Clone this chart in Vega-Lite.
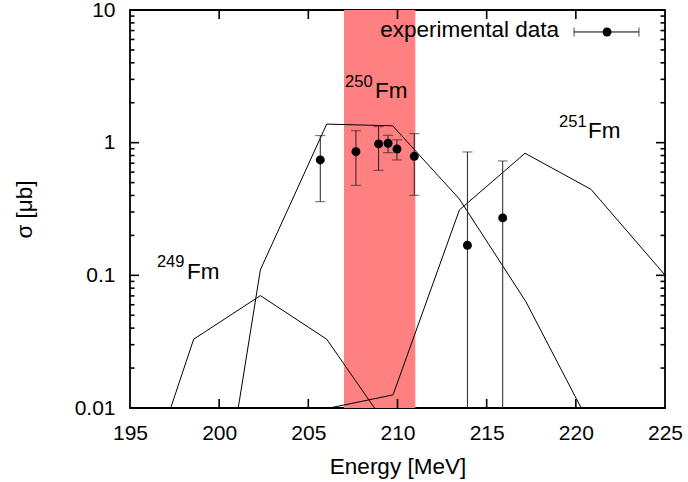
{
  "$schema": "https://vega.github.io/schema/vega-lite/v6.json",
  "width": 535,
  "height": 398,
  "autosize": {"type": "none"},
  "padding": {"left": 130, "top": 10, "right": 23, "bottom": 74},
  "background": "white",
  "config": {
    "view": {"stroke": "black", "strokeWidth": 1.8},
    "font": "Liberation Sans",
    "axis": {
      "labelFont": "Liberation Sans", "labelFontSize": 21, "labelColor": "black",
      "titleFont": "Liberation Sans", "titleFontSize": 22.5, "titleFontWeight": "normal", "titleColor": "black",
      "domain": false, "grid": false, "ticks": false,
      "labelFlush": false, "labelOverlap": false
    }
  },
  "datasets": {
    "band": [{"start": 207, "end": 211, "low": 0.01, "high": 10}],
    "frameticks": [
      {"E": 200, "E2": 200, "s": 0.01, "s2": 0.01169}, {"E": 205, "E2": 205, "s": 0.01, "s2": 0.01169}, {"E": 210, "E2": 210, "s": 0.01, "s2": 0.01169}, {"E": 215, "E2": 215, "s": 0.01, "s2": 0.01169}, {"E": 220, "E2": 220, "s": 0.01, "s2": 0.01169},
      {"E": 200, "E2": 200, "s": 10, "s2": 8.556}, {"E": 205, "E2": 205, "s": 10, "s2": 8.556}, {"E": 210, "E2": 210, "s": 10, "s2": 8.556}, {"E": 215, "E2": 215, "s": 10, "s2": 8.556}, {"E": 220, "E2": 220, "s": 10, "s2": 8.556},
      {"E": 195, "E2": 195.505, "s": 0.1, "s2": 0.1}, {"E": 195, "E2": 195.505, "s": 1, "s2": 1},
      {"E": 225, "E2": 224.495, "s": 0.1, "s2": 0.1}, {"E": 225, "E2": 224.495, "s": 1, "s2": 1},
      {"E": 195, "E2": 195.252, "s": 0.02, "s2": 0.02}, {"E": 195, "E2": 195.252, "s": 0.03, "s2": 0.03}, {"E": 195, "E2": 195.252, "s": 0.04, "s2": 0.04}, {"E": 195, "E2": 195.252, "s": 0.05, "s2": 0.05}, {"E": 195, "E2": 195.252, "s": 0.06, "s2": 0.06}, {"E": 195, "E2": 195.252, "s": 0.07, "s2": 0.07}, {"E": 195, "E2": 195.252, "s": 0.08, "s2": 0.08}, {"E": 195, "E2": 195.252, "s": 0.09, "s2": 0.09},
      {"E": 195, "E2": 195.252, "s": 0.2, "s2": 0.2}, {"E": 195, "E2": 195.252, "s": 0.3, "s2": 0.3}, {"E": 195, "E2": 195.252, "s": 0.4, "s2": 0.4}, {"E": 195, "E2": 195.252, "s": 0.5, "s2": 0.5}, {"E": 195, "E2": 195.252, "s": 0.6, "s2": 0.6}, {"E": 195, "E2": 195.252, "s": 0.7, "s2": 0.7}, {"E": 195, "E2": 195.252, "s": 0.8, "s2": 0.8}, {"E": 195, "E2": 195.252, "s": 0.9, "s2": 0.9},
      {"E": 195, "E2": 195.252, "s": 2, "s2": 2}, {"E": 195, "E2": 195.252, "s": 3, "s2": 3}, {"E": 195, "E2": 195.252, "s": 4, "s2": 4}, {"E": 195, "E2": 195.252, "s": 5, "s2": 5}, {"E": 195, "E2": 195.252, "s": 6, "s2": 6}, {"E": 195, "E2": 195.252, "s": 7, "s2": 7}, {"E": 195, "E2": 195.252, "s": 8, "s2": 8}, {"E": 195, "E2": 195.252, "s": 9, "s2": 9},
      {"E": 225, "E2": 224.748, "s": 0.02, "s2": 0.02}, {"E": 225, "E2": 224.748, "s": 0.03, "s2": 0.03}, {"E": 225, "E2": 224.748, "s": 0.04, "s2": 0.04}, {"E": 225, "E2": 224.748, "s": 0.05, "s2": 0.05}, {"E": 225, "E2": 224.748, "s": 0.06, "s2": 0.06}, {"E": 225, "E2": 224.748, "s": 0.07, "s2": 0.07}, {"E": 225, "E2": 224.748, "s": 0.08, "s2": 0.08}, {"E": 225, "E2": 224.748, "s": 0.09, "s2": 0.09},
      {"E": 225, "E2": 224.748, "s": 0.2, "s2": 0.2}, {"E": 225, "E2": 224.748, "s": 0.3, "s2": 0.3}, {"E": 225, "E2": 224.748, "s": 0.4, "s2": 0.4}, {"E": 225, "E2": 224.748, "s": 0.5, "s2": 0.5}, {"E": 225, "E2": 224.748, "s": 0.6, "s2": 0.6}, {"E": 225, "E2": 224.748, "s": 0.7, "s2": 0.7}, {"E": 225, "E2": 224.748, "s": 0.8, "s2": 0.8}, {"E": 225, "E2": 224.748, "s": 0.9, "s2": 0.9},
      {"E": 225, "E2": 224.748, "s": 2, "s2": 2}, {"E": 225, "E2": 224.748, "s": 3, "s2": 3}, {"E": 225, "E2": 224.748, "s": 4, "s2": 4}, {"E": 225, "E2": 224.748, "s": 5, "s2": 5}, {"E": 225, "E2": 224.748, "s": 6, "s2": 6}, {"E": 225, "E2": 224.748, "s": 7, "s2": 7}, {"E": 225, "E2": 224.748, "s": 8, "s2": 8}, {"E": 225, "E2": 224.748, "s": 9, "s2": 9}
    ],
    "curves": [
      {"isotope": "249Fm", "E": 194.8, "sigma": 0.001},
      {"isotope": "249Fm", "E": 198.57, "sigma": 0.033},
      {"isotope": "249Fm", "E": 202.31, "sigma": 0.0703},
      {"isotope": "249Fm", "E": 206.03, "sigma": 0.033},
      {"isotope": "249Fm", "E": 209.75, "sigma": 0.0063},
      {"isotope": "250Fm", "E": 198.57, "sigma": 0.00008},
      {"isotope": "250Fm", "E": 202.31, "sigma": 0.11},
      {"isotope": "250Fm", "E": 206.03, "sigma": 1.38},
      {"isotope": "250Fm", "E": 209.73, "sigma": 1.34},
      {"isotope": "250Fm", "E": 213.47, "sigma": 0.376},
      {"isotope": "250Fm", "E": 217.2, "sigma": 0.0633},
      {"isotope": "250Fm", "E": 220.9, "sigma": 0.007},
      {"isotope": "251Fm", "E": 202.31, "sigma": 0.0001},
      {"isotope": "251Fm", "E": 206.03, "sigma": 0.0099},
      {"isotope": "251Fm", "E": 209.75, "sigma": 0.01256},
      {"isotope": "251Fm", "E": 213.47, "sigma": 0.311},
      {"isotope": "251Fm", "E": 217.15, "sigma": 0.832},
      {"isotope": "251Fm", "E": 220.85, "sigma": 0.445},
      {"isotope": "251Fm", "E": 224.6, "sigma": 0.116},
      {"isotope": "251Fm", "E": 228.3, "sigma": 0.03}
    ],
    "exp": [
      {"E": 205.67, "sigma": 0.741, "lo": 0.359, "hi": 1.13},
      {"E": 207.67, "sigma": 0.855, "lo": 0.477, "hi": 1.23},
      {"E": 208.94, "sigma": 0.978, "lo": 0.619, "hi": 1.32},
      {"E": 209.47, "sigma": 0.99, "lo": 0.84, "hi": 1.137},
      {"E": 209.97, "sigma": 0.896, "lo": 0.741, "hi": 1.05},
      {"E": 210.94, "sigma": 0.789, "lo": 0.401, "hi": 1.17},
      {"E": 213.92, "sigma": 0.1685, "lo": 0.0001, "hi": 0.851},
      {"E": 215.9, "sigma": 0.271, "lo": 0.0001, "hi": 0.728}
    ],
    "key": [{"label": "experimental data", "Etext": 219.06, "stext": 6.26, "E0": 219.9, "E1": 223.54, "Em": 221.75, "s": 6.83}],
    "labels": [
      {"part": "mass", "text": "249", "E": 196.51, "sigma": 0.1157},
      {"part": "symbol", "text": "Fm", "E": 198.2, "sigma": 0.094},
      {"part": "mass", "text": "250", "E": 207.06, "sigma": 2.64},
      {"part": "symbol", "text": "Fm", "E": 208.74, "sigma": 2.17},
      {"part": "mass", "text": "251", "E": 219.06, "sigma": 1.313},
      {"part": "symbol", "text": "Fm", "E": 220.68, "sigma": 1.079}
    ]
  },
  "layer": [
    {
      "data": {"name": "band"},
      "mark": {"type": "rect", "color": "#ff8080"},
      "encoding": {
        "x": {"field": "start", "type": "quantitative", "scale": {"domain": [195, 225], "nice": false, "zero": false},
          "axis": {"orient": "bottom", "values": [195, 200, 205, 210, 215, 220, 225], "format": "d", "labelPadding": 14, "title": "Energy [MeV]", "titleY": 65, "titleBaseline": "alphabetic"}},
        "x2": {"field": "end"},
        "y": {"field": "low", "type": "quantitative", "scale": {"type": "log", "domain": [0.01, 10], "nice": false},
          "axis": {"orient": "left", "values": [0.01, 0.1, 1, 10], "format": "~g", "labelPadding": 15, "title": "σ [μb]", "titleX": -99, "titleBaseline": "alphabetic"}},
        "y2": {"field": "high"}
      }
    },
    {
      "data": {"name": "curves"},
      "mark": {"type": "line", "color": "black", "strokeWidth": 1, "clip": true},
      "encoding": {
        "x": {"field": "E", "type": "quantitative"},
        "y": {"field": "sigma", "type": "quantitative"},
        "detail": {"field": "isotope"}
      }
    },
    {
      "data": {"name": "exp"},
      "mark": {"type": "rule", "color": "#222", "strokeWidth": 1, "clip": true},
      "encoding": {
        "x": {"field": "E", "type": "quantitative"},
        "y": {"field": "lo", "type": "quantitative"},
        "y2": {"field": "hi"}
      }
    },
    {
      "data": {"name": "exp"},
      "mark": {"type": "tick", "orient": "horizontal", "color": "#222", "size": 10, "thickness": 1, "clip": true},
      "encoding": {
        "x": {"field": "E", "type": "quantitative"},
        "y": {"field": "hi", "type": "quantitative"}
      }
    },
    {
      "data": {"name": "exp"},
      "mark": {"type": "tick", "orient": "horizontal", "color": "#222", "size": 10, "thickness": 1, "clip": true},
      "encoding": {
        "x": {"field": "E", "type": "quantitative"},
        "y": {"field": "lo", "type": "quantitative"}
      }
    },
    {
      "data": {"name": "exp"},
      "mark": {"type": "point", "shape": "circle", "filled": true, "color": "black", "opacity": 1, "size": 80},
      "encoding": {
        "x": {"field": "E", "type": "quantitative"},
        "y": {"field": "sigma", "type": "quantitative"}
      }
    },
    {
      "data": {"name": "key"},
      "mark": {"type": "rule", "color": "black", "strokeWidth": 1},
      "encoding": {
        "x": {"field": "E0", "type": "quantitative"},
        "x2": {"field": "E1"},
        "y": {"field": "s", "type": "quantitative"}
      }
    },
    {
      "data": {"name": "key"},
      "mark": {"type": "tick", "orient": "vertical", "color": "black", "size": 9, "thickness": 1},
      "encoding": {
        "x": {"field": "E0", "type": "quantitative"},
        "y": {"field": "s", "type": "quantitative"}
      }
    },
    {
      "data": {"name": "key"},
      "mark": {"type": "tick", "orient": "vertical", "color": "black", "size": 9, "thickness": 1},
      "encoding": {
        "x": {"field": "E1", "type": "quantitative"},
        "y": {"field": "s", "type": "quantitative"}
      }
    },
    {
      "data": {"name": "key"},
      "mark": {"type": "point", "shape": "circle", "filled": true, "color": "black", "opacity": 1, "size": 80},
      "encoding": {
        "x": {"field": "Em", "type": "quantitative"},
        "y": {"field": "s", "type": "quantitative"}
      }
    },
    {
      "data": {"name": "key"},
      "mark": {"type": "text", "align": "right", "baseline": "alphabetic", "font": "Liberation Sans", "fontSize": 22.5, "color": "black"},
      "encoding": {
        "x": {"field": "Etext", "type": "quantitative"},
        "y": {"field": "stext", "type": "quantitative"},
        "text": {"field": "label"}
      }
    },
    {
      "data": {"name": "labels"},
      "transform": [{"filter": "datum.part == 'mass'"}],
      "mark": {"type": "text", "align": "left", "baseline": "alphabetic", "font": "Liberation Sans", "fontSize": 16.5, "color": "black"},
      "encoding": {
        "x": {"field": "E", "type": "quantitative"},
        "y": {"field": "sigma", "type": "quantitative"},
        "text": {"field": "text"}
      }
    },
    {
      "data": {"name": "labels"},
      "transform": [{"filter": "datum.part == 'symbol'"}],
      "mark": {"type": "text", "align": "left", "baseline": "alphabetic", "font": "Liberation Sans", "fontSize": 22.5, "color": "black"},
      "encoding": {
        "x": {"field": "E", "type": "quantitative"},
        "y": {"field": "sigma", "type": "quantitative"},
        "text": {"field": "text"}
      }
    },
    {
      "data": {"name": "frameticks"},
      "mark": {"type": "rule", "color": "black", "strokeWidth": 1.6},
      "encoding": {
        "x": {"field": "E", "type": "quantitative"},
        "x2": {"field": "E2"},
        "y": {"field": "s", "type": "quantitative"},
        "y2": {"field": "s2"}
      }
    }
  ]
}
